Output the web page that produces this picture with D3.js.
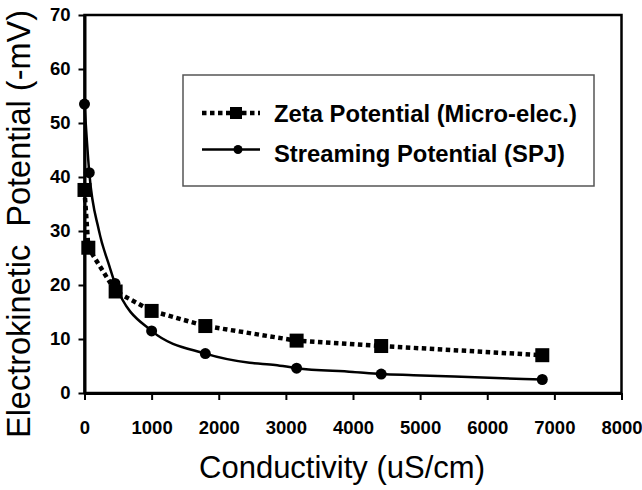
<!DOCTYPE html>
<html>
<head>
<meta charset="utf-8">
<script src="https://cdn.jsdelivr.net/npm/d3@7"></script>
<style>
  body { margin: 0; background: #fff; }
  text { font-family: "Liberation Sans", Arial, sans-serif; }
</style>
</head>
<body>
<script>
// zeta potential (squares, dotted line)
var zetaX = [0, 57, 464, 1000, 1800, 3160, 4420, 6820];
var zetaY = [37.6, 26.9, 18.8, 15.2, 12.4, 9.7, 8.7, 7.0];
// streaming potential (circles, solid line)
var streamX = [0, 71, 454, 1000, 1800, 3160, 4420, 6820];
var streamY = [53.5, 40.8, 20.3, 11.5, 7.3, 4.6, 3.5, 2.5];
// solid curve, includes the unmarked bends
var streamLineX = [0, 71, 213, 373, 454, 1000, 1800, 2460, 2840, 3160, 4000, 4420, 4900, 6540, 6820];
var streamLineY = [53.5, 40.8, 30.2, 23.4, 20.3, 11.5, 7.3, 5.6, 5.2, 4.6, 3.9, 3.5, 3.3, 2.6, 2.5];

var xTicks = [0, 1000, 2000, 3000, 4000, 5000, 6000, 7000, 8000];
var yTicks = [0, 10, 20, 30, 40, 50, 60, 70];
var legendLabels = ['Zeta Potential (Micro-elec.)', 'Streaming Potential (SPJ)'];

var W = 642, H = 490;

var svg = d3.select('body')
  .append('svg')
  .attr('width', W)
  .attr('height', H);

svg.append('rect').attr('width', W).attr('height', H).attr('fill', '#fff');

var x = d3.scaleLinear().domain([0, 8000]).range([84.5, 621.5]);
var y = d3.scaleLinear().domain([0, 70]).range([393, 15]);

// frame
svg.append('rect')
  .attr('x', x(0))
  .attr('y', y(70))
  .attr('width', x(8000) - x(0))
  .attr('height', y(0) - y(70))
  .attr('fill', 'none')
  .attr('stroke', '#000')
  .attr('stroke-width', 2.5);

var xAxis = svg.append('g')
  .attr('transform', 'translate(0,' + y(0) + ')')
  .call(d3.axisBottom(x).tickValues(xTicks).tickFormat(d3.format('d'))
    .tickSize(7).tickPadding(21).tickSizeOuter(0));

var yAxis = svg.append('g')
  .attr('transform', 'translate(' + x(0) + ',0)')
  .call(d3.axisLeft(y).tickValues(yTicks).tickFormat(d3.format('d'))
    .tickSize(6).tickPadding(8).tickSizeOuter(0));

[xAxis, yAxis].forEach(function(g){
  g.select('.domain').attr('stroke-width', 3);
  g.selectAll('.tick line').attr('stroke-width', 2);
  g.selectAll('.tick text')
    .style('font-family', '"Liberation Sans", Arial, sans-serif')
    .style('font-size', '18.5px')
    .style('font-weight', 'bold')
    .attr('fill', '#000');
});

// titles
svg.append('text')
  .attr('x', 342)
  .attr('y', 478)
  .attr('text-anchor', 'middle')
  .style('font-size', '31px')
  .text('Conductivity (uS/cm)');

svg.append('text')
  .attr('transform', 'translate(29.5,224) rotate(-90)')
  .attr('text-anchor', 'middle')
  .style('font-size', '32.5px')
  .style('white-space', 'pre')
  .text('Electrokinetic  Potential (-mV)');

// lines
var zeta = zetaX.map((d, i) => [d, zetaY[i]]);
var stream = streamX.map((d, i) => [d, streamY[i]]);
var streamLine = streamLineX.map((d, i) => [d, streamLineY[i]]);

svg.append('path')
  .datum(streamLine)
  .attr('d', d3.line().x(d => x(d[0])).y(d => y(d[1])).curve(d3.curveMonotoneX))
  .attr('fill', 'none')
  .attr('stroke', '#000')
  .attr('stroke-width', 2.5);

svg.append('path')
  .datum(zeta)
  .attr('d', d3.line().x(d => x(d[0])).y(d => y(d[1])))
  .attr('fill', 'none')
  .attr('stroke', '#000')
  .attr('stroke-width', 4.5)
  .attr('stroke-dasharray', '4.5,3.5');

svg.selectAll('circle.pt')
  .data(stream)
  .enter()
  .append('circle')
  .attr('class', 'pt')
  .attr('cx', d => x(d[0]))
  .attr('cy', d => y(d[1]))
  .attr('r', 5.5)
  .attr('fill', '#000');

svg.selectAll('rect.pt')
  .data(zeta)
  .enter()
  .append('rect')
  .attr('class', 'pt')
  .attr('x', d => x(d[0]) - 7)
  .attr('y', d => y(d[1]) - 7)
  .attr('width', 14)
  .attr('height', 14)
  .attr('fill', '#000');

// legend
var lg = svg.append('g');
lg.append('rect')
  .attr('x', 183)
  .attr('y', 75)
  .attr('width', 411)
  .attr('height', 111)
  .attr('fill', '#fff')
  .attr('stroke', '#555')
  .attr('stroke-width', 1.5);

lg.append('line')
  .attr('x1', 202).attr('x2', 260)
  .attr('y1', 113).attr('y2', 113)
  .attr('stroke', '#000')
  .attr('stroke-width', 4.5)
  .attr('stroke-dasharray', '4.5,3.5');
lg.append('rect')
  .attr('x', 230).attr('y', 107)
  .attr('width', 12).attr('height', 12)
  .attr('fill', '#000');

lg.append('line')
  .attr('x1', 202).attr('x2', 260)
  .attr('y1', 149.5).attr('y2', 149.5)
  .attr('stroke', '#000')
  .attr('stroke-width', 2.5);
lg.append('circle')
  .attr('cx', 238).attr('cy', 149.5)
  .attr('r', 4.5)
  .attr('fill', '#000');

lg.selectAll('text')
  .data(legendLabels)
  .enter()
  .append('text')
  .attr('x', 274)
  .attr('y', (d, i) => 122 + 39.5 * i)
  .style('font-size', '23.8px')
  .style('font-weight', 'bold')
  .text(d => d);
</script>
</body>
</html>
